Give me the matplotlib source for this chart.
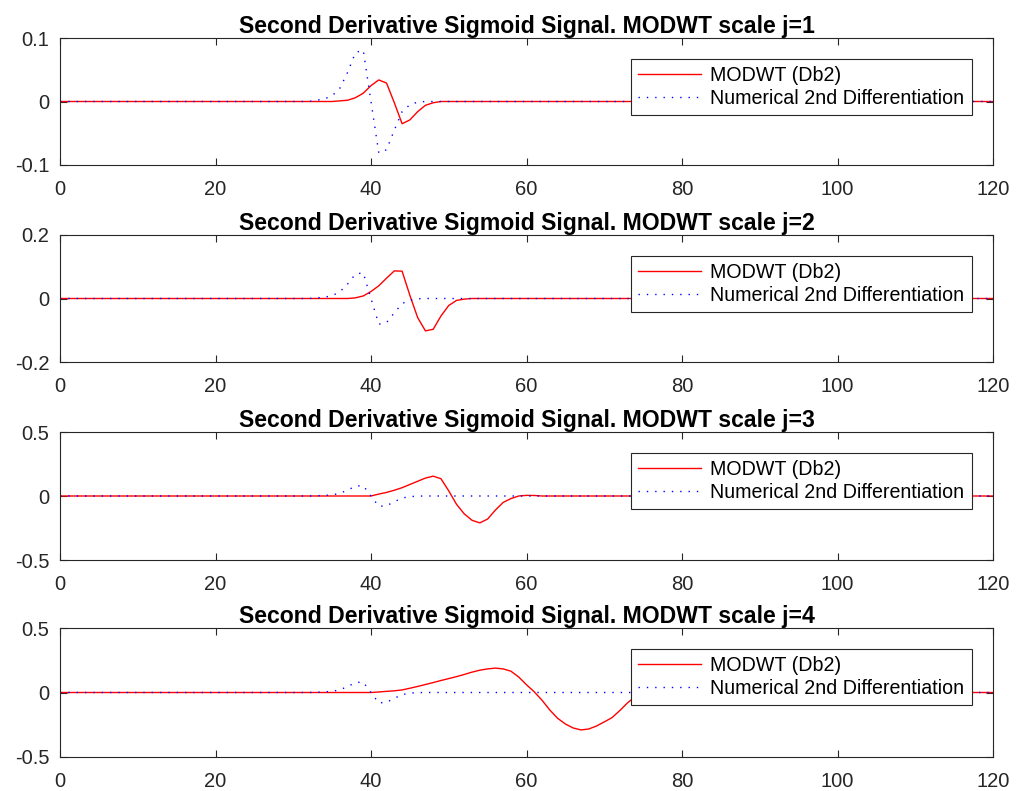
import matplotlib
matplotlib.use("Agg")
import matplotlib.pyplot as plt
import numpy as np

plt.rcParams["font.family"] = ["Liberation Sans", "DejaVu Sans"]

# numerical second derivative of the sigmoid (same in every panel)
num_x = [0, 32, 33, 34, 35, 36, 37, 38, 39, 40, 41, 42, 43, 44, 45, 46, 47, 120]
num_y = [0, 0, 0.002, 0.004, 0.009, 0.021, 0.046, 0.077, 0.081, 0.0,
         -0.081, -0.076, -0.045, -0.016, -0.005, -0.001, 0, 0]

# MODWT (Db2) detail at scales j=1..4
j1_x = [0, 35, 36, 37, 38, 39, 40, 41, 42, 43, 44, 45, 46, 47, 48, 49, 120]
j1_y = [0, 0, 0.001, 0.002, 0.006, 0.013, 0.025, 0.034, 0.029, -0.002,
        -0.035, -0.029, -0.016, -0.006, -0.002, 0, 0]

j2_x = [0, 37, 38, 39, 40, 41, 42, 43, 44, 45, 46, 47, 48, 49, 50, 51, 52, 53, 120]
j2_y = [0, 0, 0.002, 0.008, 0.022, 0.04, 0.064, 0.087, 0.086, 0.01,
        -0.06, -0.102, -0.097, -0.055, -0.022, -0.006, -0.002, 0, 0]

j3_x = [0, 40, 41, 42, 43, 44, 45, 46, 47, 48, 49, 50, 51, 52, 53, 54, 55,
        56, 57, 58, 59, 60, 61, 62, 120]
j3_y = [0, 0, 0.015, 0.028, 0.045, 0.065, 0.09, 0.115, 0.14, 0.155, 0.135,
        0.04, -0.065, -0.14, -0.19, -0.21, -0.18, -0.11, -0.05, -0.02, 0.0,
        0.005, 0.004, 0, 0]

j4_x = [0, 40, 41, 42, 43, 44, 45, 46, 47, 48, 49, 50, 51, 52, 53, 54, 55,
        56, 57, 58, 59, 60, 61, 62, 63, 64, 65, 66, 67, 68, 69, 70, 71, 72,
        73, 74, 75, 76, 77, 78, 79, 120]
j4_y = [0, 0, 0.004, 0.009, 0.013, 0.02, 0.033, 0.047, 0.062, 0.077, 0.093,
        0.108, 0.123, 0.14, 0.158, 0.173, 0.183, 0.189, 0.183, 0.165, 0.12,
        0.06, 0.005, -0.06, -0.136, -0.2, -0.244, -0.275, -0.29, -0.283,
        -0.26, -0.228, -0.195, -0.14, -0.08, -0.03, 0.0, 0.01, 0.01, 0.005,
        0, 0]

modwt = [(j1_x, j1_y), (j2_x, j2_y), (j3_x, j3_y), (j4_x, j4_y)]
ylims = [0.1, 0.2, 0.5, 0.5]
yticks = [[-0.1, 0, 0.1], [-0.2, 0, 0.2], [-0.5, 0, 0.5], [-0.5, 0, 0.5]]
yticklabels = [["-0.1", "0", "0.1"], ["-0.2", "0", "0.2"],
               ["-0.5", "0", "0.5"], ["-0.5", "0", "0.5"]]
xticks = [0, 20, 40, 60, 80, 100, 120]

W, H = 1018, 791
fig = plt.figure(figsize=(W / 100, H / 100), dpi=100)
frame = "#262626"
tops = [38, 235, 432, 628]
bots = [165, 362, 560, 757]
left, right = 60, 993

for i in range(4):
    ax = fig.add_axes([left / W, 1 - bots[i] / H, (right - left) / W,
                       (bots[i] - tops[i]) / H])
    mx, my = modwt[i]
    ax.plot(mx, my, color="red", lw=1.0, label="MODWT (Db2)")
    ax.plot(num_x, num_y, color="blue", lw=1.0, linestyle=(0, (1, 5)),
            label="Numerical 2nd Differentiation")
    ax.set_xlim(0, 120)
    ax.set_ylim(-ylims[i], ylims[i])
    ax.set_xticks(xticks)
    ax.set_xticklabels([str(v) for v in xticks])
    ax.set_yticks(yticks[i])
    ax.set_yticklabels(yticklabels[i])
    ax.tick_params(direction="in", top=True, right=True, length=5,
                   width=0.8, colors=frame, labelsize=14.5)
    ax.tick_params(axis="x", pad=11)
    ax.tick_params(axis="y", pad=7.5)
    for s in ax.spines.values():
        s.set_color(frame)
        s.set_linewidth(0.8)
    ax.set_title("Second Derivative Sigmoid Signal. MODWT scale j=%d" % (i + 1),
                 fontsize=16.6, fontweight="bold", pad=3.5)
    leg = ax.legend(loc="upper right", bbox_to_anchor=(0.977, 0.835),
                    borderaxespad=0, fontsize=14.1, fancybox=False,
                    framealpha=1, edgecolor=frame, handlelength=3.2,
                    labelspacing=0.2, borderpad=0.36, handletextpad=0.48)
    leg.get_frame().set_linewidth(0.8)

fig.savefig("out.png", dpi=100)
